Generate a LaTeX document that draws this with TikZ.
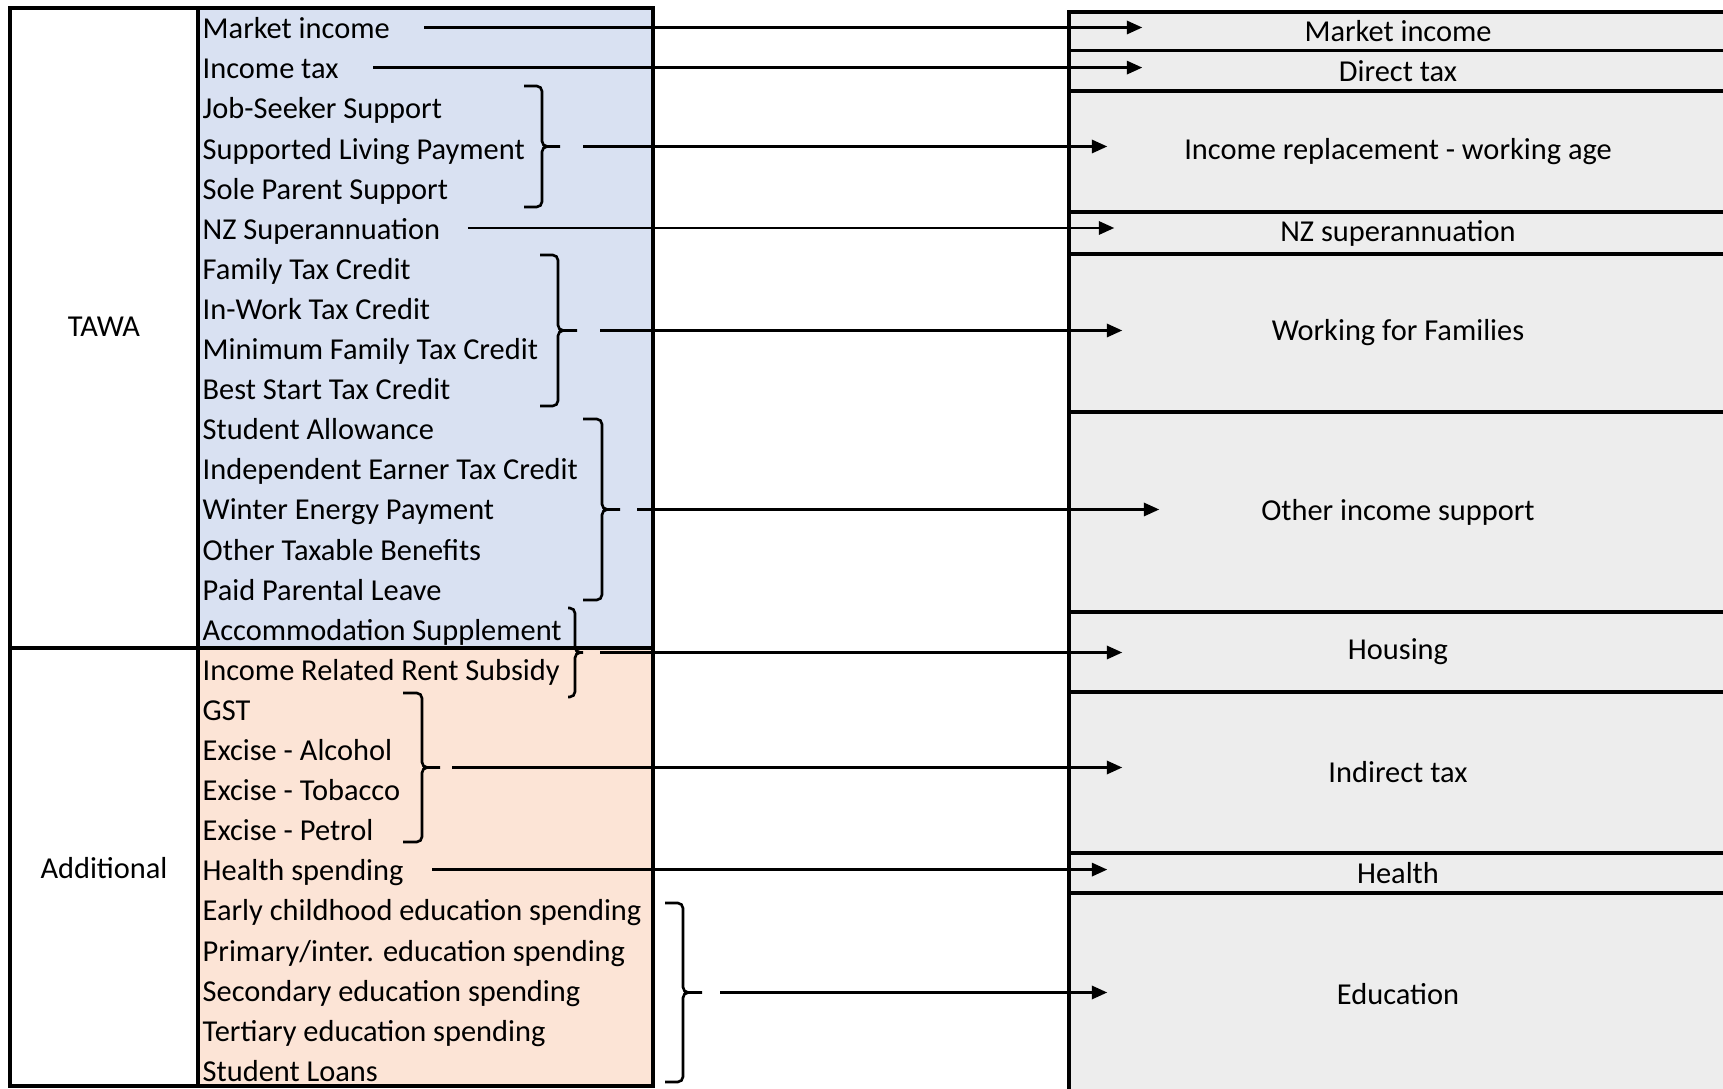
\documentclass[tikz,border=0pt]{standalone}
\usepackage{fontspec}
\setmainfont{Carlito}
\usetikzlibrary{arrows.meta}

\definecolor{tawablue}{RGB}{217,225,242}
\definecolor{addorange}{RGB}{252,228,214}
\definecolor{boxgray}{RGB}{237,237,237}

\tikzset{
	item/.style={anchor=west, inner sep=0pt, text height=0.84em, text depth=0.2em},
	rbox/.style={draw, fill=boxgray, line width=1pt, minimum width=6.58cm, inner sep=0pt},
	arr/.style={line width=0.65pt, -{Triangle[length=4.4pt,width=3.8pt]}},
	brk/.style={line width=0.75pt, rounded corners=1.5pt},
	frame/.style={line width=1pt}
}

\begin{document}
\begin{tikzpicture}[font=\fontsize{8.65pt}{10pt}\selectfont]
	\useasboundingbox (0,0) rectangle (17.23,-10.89);
	% left table
	\fill[tawablue] (1.98,-0.08) rectangle (6.53,-6.48);
	\fill[addorange] (1.98,-6.48) rectangle (6.53,-10.86);
	\draw[frame] (0.10,-0.08) rectangle (6.53,-10.86);
	\draw[frame] (1.98,-0.08) -- (1.98,-10.86);
	\draw[frame] (0.10,-6.48) -- (6.53,-6.48);
	\node (tawa) at (1.04,-3.27) {TAWA};
	\node (addl) at (1.04,-8.68) {Additional};
	\foreach \txt [count=\i from 0] in {Market income, Income tax, Job-Seeker Support,
		Supported Living Payment, Sole Parent Support, NZ Superannuation, Family Tax Credit,
		In-Work Tax Credit, Minimum Family Tax Credit, Best Start Tax Credit, Student Allowance,
		Independent Earner Tax Credit, Winter Energy Payment, Other Taxable Benefits,
		Paid Parental Leave, Accommodation Supplement, Income Related Rent Subsidy, GST,
		Excise - Alcohol, Excise - Tobacco, Excise - Petrol, Health spending,
		Early childhood education spending, Primary/inter. education spending,
		Secondary education spending, Tertiary education spending, Student Loans}
		\node[item] (l\i) at (2.02,{-0.275-0.401*\i}) {\txt};

	% right table
	\node[rbox, minimum height=0.385cm] (r1) at (13.98,-0.3125) {Market income};
	\node[rbox, minimum height=0.405cm] (r2) at (13.98,-0.7075) {Direct tax};
	\node[rbox, minimum height=1.21cm] (r3) at (13.98,-1.515) {Income replacement - working age};
	\node[rbox, minimum height=0.42cm] (r4) at (13.98,-2.33) {NZ superannuation};
	\node[rbox, minimum height=1.58cm] (r5) at (13.98,-3.33) {Working for Families};
	\node[rbox, minimum height=2.00cm] (r6) at (13.98,-5.12) {Other income support};
	\node[rbox, minimum height=0.80cm] (r7) at (13.98,-6.52) {Housing};
	\node[rbox, minimum height=1.61cm] (r8) at (13.98,-7.725) {Indirect tax};
	\node[rbox, minimum height=0.40cm] (r9) at (13.98,-8.73) {Health};
	\node[rbox, minimum height=2.02cm] (r10) at (13.98,-9.94) {Education};

	% braces
	\draw[brk] (5.24,-0.86) -- (5.42,-0.86) -- (5.42,-1.465) -- (5.60,-1.465) coordinate (g1)
		(g1) -- (5.42,-1.465) -- (5.42,-2.07) -- (5.24,-2.07);
	\draw[brk] (5.40,-2.55) -- (5.58,-2.55) -- (5.58,-3.305) -- (5.77,-3.305) coordinate (g2)
		(g2) -- (5.58,-3.305) -- (5.58,-4.06) -- (5.40,-4.06);
	\draw[brk] (5.83,-4.19) -- (6.02,-4.19) -- (6.02,-5.095) -- (6.20,-5.095) coordinate (g3)
		(g3) -- (6.02,-5.095) -- (6.02,-6.00) -- (5.83,-6.00);
	\draw[brk] (5.68,-6.08) -- (5.75,-6.08) -- (5.75,-6.525) -- (5.83,-6.525) coordinate (g4)
		(g4) -- (5.75,-6.525) -- (5.75,-6.97) -- (5.68,-6.97);
	\draw[brk] (4.03,-6.93) -- (4.22,-6.93) -- (4.22,-7.675) -- (4.40,-7.675) coordinate (g5)
		(g5) -- (4.22,-7.675) -- (4.22,-8.42) -- (4.03,-8.42);
	\draw[brk] (6.65,-9.03) -- (6.83,-9.03) -- (6.83,-9.925) -- (7.02,-9.925) coordinate (g6)
		(g6) -- (6.83,-9.925) -- (6.83,-10.82) -- (6.65,-10.82);

	% arrows
	\draw[arr, shorten >=-7.5mm] ([xshift=3.4mm]l0.east) -- (l0.east -| r1.west);
	\draw[arr, shorten >=-7.5mm] ([xshift=3.4mm]l1.east) -- (l1.east -| r2.west);
	\draw[arr, shorten >=-4.0mm] ([xshift=2.3mm]g1) -- (g1 -| r3.west);
	\draw[arr, shorten >=-4.7mm] ([xshift=2.7mm]l5.east) -- (l5.east -| r4.west);
	\draw[arr, shorten >=-5.5mm] ([xshift=2.3mm]g2) -- (g2 -| r5.west);
	\draw[arr, shorten >=-9.2mm] ([xshift=1.7mm]g3) -- (g3 -| r6.west);
	\draw[arr, shorten >=-5.5mm] ([xshift=1.7mm]g4) -- (g4 -| r7.west);
	\draw[arr, shorten >=-5.5mm] ([xshift=1.2mm]g5) -- (g5 -| r8.west);
	\draw[arr, shorten >=-4.0mm] ([xshift=2.8mm]l21.east) -- (l21.east -| r9.west);
	\draw[arr, shorten >=-4.0mm] ([xshift=1.8mm]g6) -- (g6 -| r10.west);
\end{tikzpicture}
\end{document}
